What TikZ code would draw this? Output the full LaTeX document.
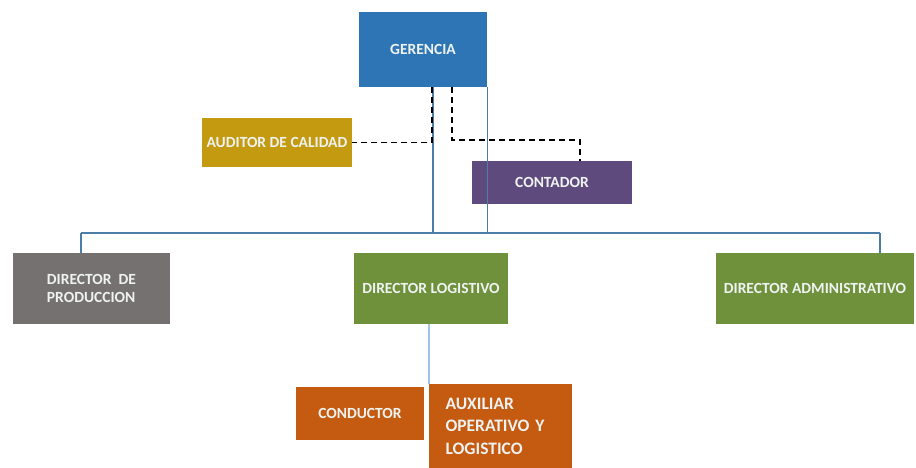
\documentclass[tikz,border=0pt]{standalone}
\usepackage{fontspec}
\setmainfont{Carlito}
\usepackage{tikz}
\definecolor{gerblue}{HTML}{2E75B6}
\definecolor{audgold}{HTML}{C39A10}
\definecolor{contpurple}{HTML}{5F4A7E}
\definecolor{prodgray}{HTML}{767171}
\definecolor{dirgreen}{HTML}{70913B}
\definecolor{auxorange}{HTML}{C55A11}
\definecolor{busblue}{HTML}{4A7EA6}
\definecolor{lightblue}{HTML}{9DC3E6}
\definecolor{boxtext}{HTML}{EEF2F0}
\begin{document}
\begin{tikzpicture}[x=1pt,y=-1pt,
	box/.style={rectangle,inner sep=2pt,text=boxtext,font=\bfseries\fontsize{15.5}{18}\selectfont},
	bus/.style={draw=busblue,line width=1.3pt},
	dashlink/.style={draw=black,line width=1.5pt,dash pattern=on 6pt off 4pt}]
	\useasboundingbox (0,0) rectangle (916,468);
	\node[box,fill=gerblue,minimum width=128,minimum height=75] (ger) at (423,49.5) {GERENCIA};
	\node[box,fill=audgold,minimum width=150,minimum height=49] (aud) at (277,142.5) {AUDITOR DE CALIDAD};
	\node[box,fill=contpurple,minimum width=160,minimum height=43] (cont) at (552,182.5) {CONTADOR};
	\node[box,fill=prodgray,minimum width=157,minimum height=71,align=left] (dprod) at (91.5,288.5) {DIRECTOR~~DE\\PRODUCCION};
	\node[box,fill=dirgreen,minimum width=154,minimum height=71] (dlog) at (431,288.5) {DIRECTOR LOGISTIVO};
	\node[box,fill=dirgreen,minimum width=198,minimum height=71] (dadm) at (815,288.5) {DIRECTOR ADMINISTRATIVO};
	\node[box,fill=auxorange,minimum width=128,minimum height=53] (cond) at (360,413.5) {CONDUCTOR};
	\node[box,fill=auxorange,minimum width=143,minimum height=84,text width=110,align=left,font=\bfseries\fontsize{17.5}{22.5}\selectfont] (aux) at (500.5,426) {AUXILIAR\\OPERATIVO Y\\LOGISTICO};
	\coordinate (busL) at (81,233);
	\coordinate (busR) at (880,233);
	\draw[bus] (busL) -- (busR);
	\draw[bus] (busL) -- (busL |- dprod.north);
	\draw[bus] (busR) -- (busR |- dadm.north);
	\draw[bus] ([xshift=10pt]ger.south) -- ([xshift=10pt]ger.south |- busL);
	\draw[bus] (ger.south east) -- (ger.south east |- busL);
	\draw[dashlink] ([xshift=9pt]ger.south) |- (aud.east);
	\draw[dashlink] ([xshift=29pt]ger.south) -- ++(0,53) -| ([xshift=28pt]cont.north);
	\draw[draw=lightblue,line width=2pt] ([xshift=-2pt]dlog.south) -- ([xshift=-2pt]dlog.south |- aux.north);
\end{tikzpicture}
\end{document}
